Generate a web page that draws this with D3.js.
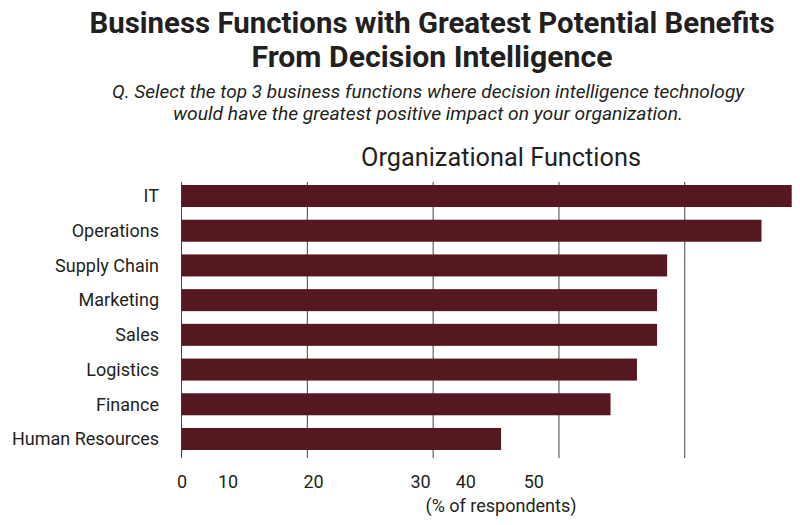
<!DOCTYPE html>
<html>
<head>
<meta charset="utf-8">
<script src="https://cdn.jsdelivr.net/npm/d3@7"></script>
<style>
  html, body { margin: 0; padding: 0; background: #fff; }
  svg { display: block; }
</style>
</head>
<body>
<svg id="chart" width="800" height="525"></svg>
<script>
const categories = ["IT", "Operations", "Supply Chain", "Marketing", "Sales", "Logistics", "Finance", "Human Resources"];
const values = [48.5, 46.1, 38.6, 37.8, 37.8, 36.2, 34.1, 25.4];
const gridValues = [0, 10, 20, 30, 40];
const tickLabels = ["0", "10", "20", "30", "40", "50"];
const tickLabelAt = [0.05, 3.7, 10.5, 19.0, 22.6, 28.0];

const titleLines = ["Business Functions with Greatest Potential Benefits", "From Decision Intelligence"];
const subtitleLines = ["Q. Select the top 3 business functions where decision intelligence technology", "would have the greatest positive impact on your organization."];
const chartTitle = "Organizational Functions";
const axisTitle = "(% of respondents)";

const svg = d3.select("#chart");
const font = "Roboto, 'Open Sans', sans-serif";
const textColor = "#231f20";
const barColor = "#561820";

const x = d3.scaleLinear().domain([0, 48.5]).range([181.5, 791.7]);
const y = d3.scaleBand().domain(categories).range([179.8, 455.2]).paddingInner(0.366).paddingOuter(0.15);

// Titles
const titleW = [685, 361];
svg.selectAll("text.title").data(titleLines).enter().append("text")
  .attr("class", "title")
  .attr("x", 432).attr("y", (d, i) => 33 + i * 34)
  .attr("text-anchor", "middle")
  .attr("font-family", font).attr("font-weight", 700).attr("font-size", 29)
  .attr("fill", textColor)
  .attr("textLength", (d, i) => titleW[i]).attr("lengthAdjust", "spacingAndGlyphs")
  .text(d => d);

const subW = [632, 510];
svg.selectAll("text.sub").data(subtitleLines).enter().append("text")
  .attr("class", "sub")
  .attr("x", 428).attr("y", (d, i) => 98 + i * 22)
  .attr("text-anchor", "middle")
  .attr("font-family", font).attr("font-style", "italic").attr("font-size", 19)
  .attr("fill", textColor)
  .attr("textLength", (d, i) => subW[i]).attr("lengthAdjust", "spacingAndGlyphs")
  .text(d => d);

svg.append("text")
  .attr("x", 501).attr("y", 166)
  .attr("text-anchor", "middle")
  .attr("font-family", font).attr("font-weight", 400).attr("font-size", 25)
  .attr("fill", textColor)
  .attr("textLength", 280).attr("lengthAdjust", "spacingAndGlyphs")
  .text(chartTitle);

// Gridlines
svg.append("g").selectAll("line").data(gridValues).enter().append("line")
  .attr("x1", d => x(d)).attr("x2", d => x(d))
  .attr("y1", 182).attr("y2", 458)
  .attr("stroke", "#444").attr("stroke-width", 1);

// Bars
svg.append("g").selectAll("rect").data(categories).enter().append("rect")
  .attr("x", x(0))
  .attr("y", d => y(d))
  .attr("width", (d, i) => x(values[i]) - x(0))
  .attr("height", y.bandwidth())
  .attr("fill", barColor);

// Category labels
svg.append("g").selectAll("text").data(categories).enter().append("text")
  .attr("x", 159)
  .attr("y", d => y(d) + y.bandwidth() / 2)
  .attr("dy", "0.35em")
  .attr("text-anchor", "end")
  .attr("font-family", font).attr("font-size", 18)
  .attr("fill", textColor)
  .text(d => d);

// Tick labels
svg.append("g").selectAll("text").data(tickLabels).enter().append("text")
  .attr("x", (d, i) => x(tickLabelAt[i]))
  .attr("y", 488)
  .attr("text-anchor", "middle")
  .attr("font-family", font).attr("font-size", 18)
  .attr("fill", textColor)
  .text(d => d);

svg.append("text")
  .attr("x", 501).attr("y", 512)
  .attr("text-anchor", "middle")
  .attr("font-family", font).attr("font-size", 18)
  .attr("fill", textColor)
  .text(axisTitle);
</script>
</body>
</html>
